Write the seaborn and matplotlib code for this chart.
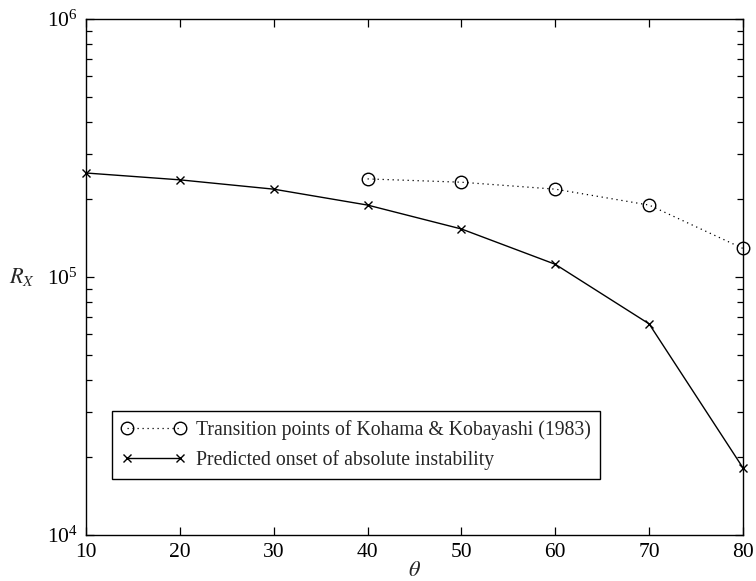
import matplotlib
matplotlib.use("Agg")
import matplotlib.pyplot as plt
import seaborn as sns
import pandas as pd
from matplotlib.ticker import LogLocator, NullFormatter, FixedLocator

# Measured transition Reynolds numbers (Kohama & Kobayashi 1983)
theta_exp = [40, 50, 60, 70, 80]
rx_exp = [2.40e5, 2.33e5, 2.19e5, 1.90e5, 1.29e5]

# Predicted onset of absolute instability
theta_pred = [10, 20, 30, 40, 50, 60, 70, 80]
rx_pred = [2.53e5, 2.38e5, 2.19e5, 1.90e5, 1.535e5, 1.12e5, 6.58e4, 1.82e4]

x_ticks = [10, 20, 30, 40, 50, 60, 70, 80]

label_exp = "Transition points of Kohama & Kobayashi (1983)"
label_pred = "Predicted onset of absolute instability"

sns.set_style("ticks")
plt.rcParams["font.family"] = ["Liberation Serif", "DejaVu Serif"]
plt.rcParams["mathtext.fontset"] = "stix"

df_exp = pd.DataFrame({"theta": theta_exp, "rx": rx_exp})
df_pred = pd.DataFrame({"theta": theta_pred, "rx": rx_pred})

fig = plt.figure(figsize=(7.56, 5.81), dpi=100)
ax = fig.add_axes([86 / 756, 1 - 535 / 581, (743 - 86) / 756, (535 - 19) / 581])

sns.lineplot(data=df_exp, x="theta", y="rx", ax=ax, color="black",
             linestyle=(0, (1, 3)), linewidth=0.9, marker="o", markersize=9,
             markerfacecolor="none", markeredgecolor="black",
             markeredgewidth=1.0, label=label_exp, clip_on=False)
sns.lineplot(data=df_pred, x="theta", y="rx", ax=ax, color="black",
             linestyle="-", linewidth=1.0, marker="x", markersize=6,
             markeredgecolor="black", markeredgewidth=1.0,
             label=label_pred, clip_on=False)

ax.set_yscale("log")
ax.set_xlim(10, 80)
ax.set_ylim(1e4, 1e6)
ax.xaxis.set_major_locator(FixedLocator(x_ticks))
ax.set_xticklabels([str(v) for v in x_ticks])
ax.yaxis.set_major_locator(LogLocator(base=10, numticks=5))
ax.yaxis.set_minor_locator(LogLocator(base=10, subs=range(2, 10), numticks=20))
ax.yaxis.set_minor_formatter(NullFormatter())

for side in ["top", "right", "bottom", "left"]:
    ax.spines[side].set_visible(True)
    ax.spines[side].set_linewidth(1.0)
    ax.spines[side].set_color("black")

ax.tick_params(which="both", direction="in", top=True, right=True,
               colors="black", labelsize=15.5, width=0.9)
ax.tick_params(which="major", length=6, pad=6)
ax.tick_params(which="minor", length=4)

ax.set_xlabel(r"$\theta$", fontsize=16, labelpad=0)
ax.set_ylabel(r"$R_X$", fontsize=16, rotation=0, va="center", ha="center")
ax.yaxis.set_label_coords(-0.097, 0.5)

leg = ax.legend(loc="lower left", bbox_to_anchor=(0.04, 0.109),
                borderaxespad=0, frameon=True, fancybox=False,
                fontsize=14.2, numpoints=2, handlelength=3.3,
                handletextpad=0.5, borderpad=0.45, labelspacing=0.5)
leg.get_frame().set_edgecolor("black")
leg.get_frame().set_linewidth(1.0)
leg.get_frame().set_alpha(1)

fig.savefig("out.png", dpi=100)
